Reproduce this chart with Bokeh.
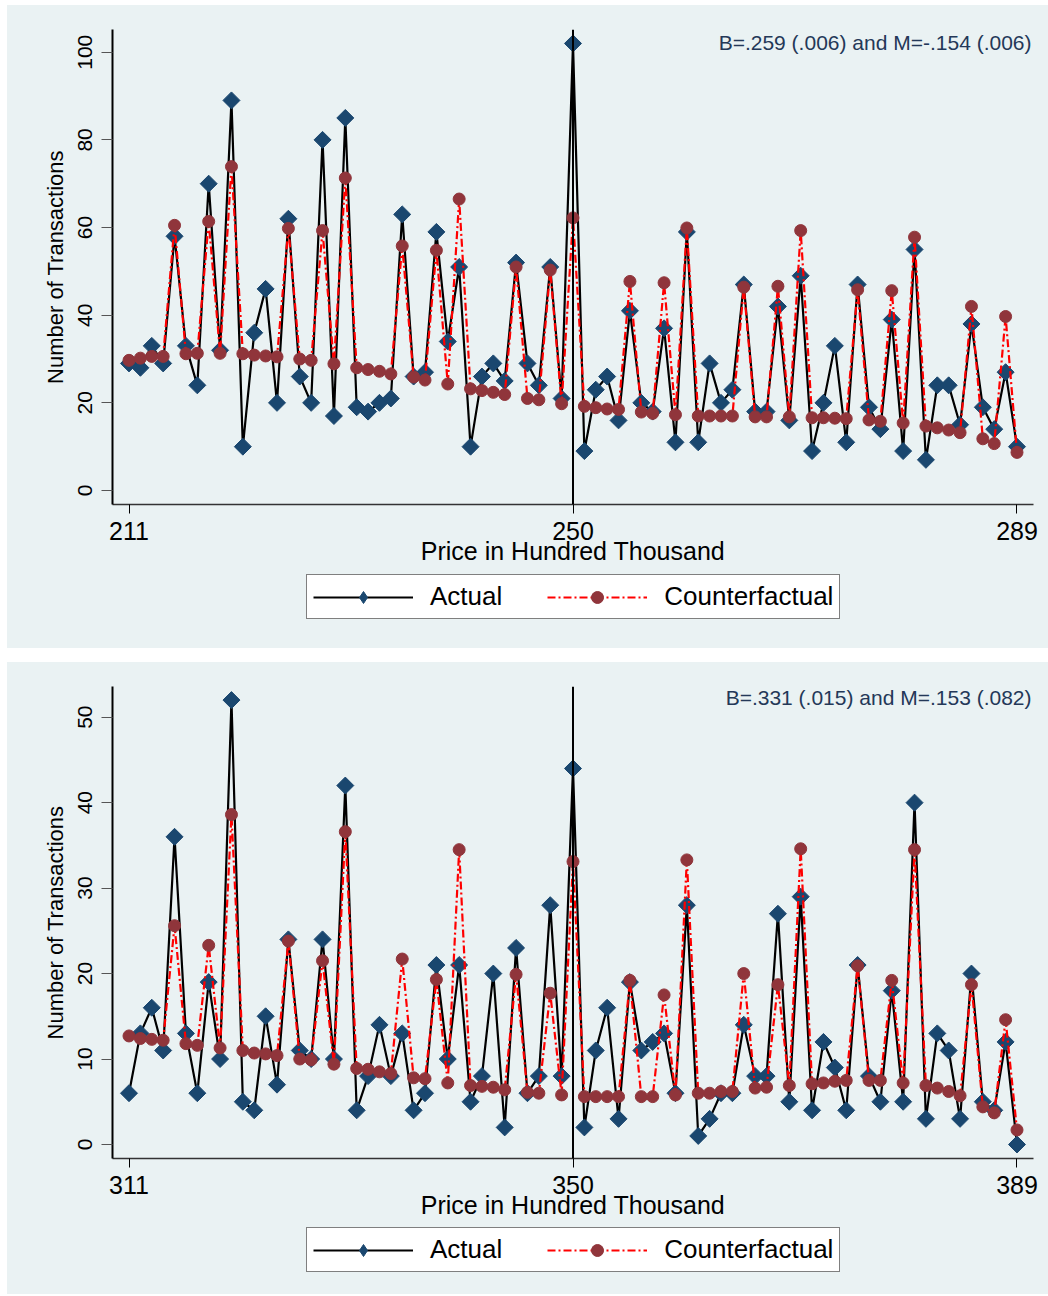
import math
from bokeh.plotting import figure
from bokeh.models import FixedTicker, Span, Label, Legend, LegendItem, Range1d
from bokeh.layouts import column
from bokeh.embed import file_html
from bokeh.resources import INLINE

# ---------------- data ----------------
price_top = list(range(211, 290))
actual_top = [29, 28, 33, 29, 58, 33, 24, 70, 32, 89,
              10, 36, 46, 20, 62, 26, 20, 80, 17, 85,
              19, 18, 20, 21, 63, 26, 27, 59, 34, 51,
              10, 26, 29, 25, 52, 29, 24, 51, 21, 102,
              9, 23, 26, 16, 41, 20, 18, 37, 11, 59,
              11, 29, 20, 23, 47, 18, 18, 42, 16, 49,
              9, 20, 33, 11, 47, 19, 14, 39, 9, 55,
              7, 24, 24, 15, 38, 19, 14, 27, 10]
counter_top = [29.7, 30.2, 30.6, 30.6, 60.5, 31.2, 31.3, 61.4, 31.3, 73.9,
               31.2, 30.9, 30.7, 30.5, 59.8, 30.0, 29.7, 59.3, 28.9, 71.3,
               28.0, 27.6, 27.2, 26.6, 55.8, 25.9, 25.2, 54.8, 24.3, 66.5,
               23.2, 22.8, 22.4, 21.9, 51.0, 21.0, 20.7, 50.3, 19.8, 62.2,
               19.2, 18.9, 18.6, 18.5, 47.7, 17.9, 17.6, 47.4, 17.3, 59.9,
               17.0, 17.0, 17.0, 17.0, 46.4, 16.8, 16.8, 46.6, 16.8, 59.3,
               16.6, 16.6, 16.5, 16.4, 45.8, 16.1, 15.8, 45.6, 15.4, 57.8,
               14.7, 14.3, 13.8, 13.2, 42.0, 11.8, 10.7, 39.7, 8.7]

price_bot = list(range(311, 390))
actual_bot = [6, 13, 16, 11, 36, 13, 6, 19, 10, 52,
              5, 4, 15, 7, 24, 11, 10, 24, 10, 42,
              4, 8, 14, 8, 13, 4, 6, 21, 10, 21,
              5, 8, 20, 2, 23, 6, 8, 28, 8, 44,
              2, 11, 16, 3, 19, 11, 12, 13, 6, 28,
              1, 3, 6, 6, 14, 8, 8, 27, 5, 29,
              4, 12, 9, 4, 21, 8, 5, 18, 5, 40,
              3, 13, 11, 3, 20, 5, 4, 12, 0]
counter_bot = [12.7, 12.4, 12.3, 12.2, 25.6, 11.8, 11.6, 23.3, 11.3, 38.6,
               11.0, 10.7, 10.6, 10.4, 23.8, 10.0, 9.9, 21.5, 9.4, 36.6,
               8.9, 8.8, 8.5, 8.3, 21.7, 7.8, 7.7, 19.3, 7.2, 34.5,
               6.9, 6.8, 6.7, 6.4, 19.9, 6.1, 6.0, 17.7, 5.8, 33.1,
               5.6, 5.6, 5.6, 5.6, 19.2, 5.6, 5.6, 17.5, 5.8, 33.3,
               6.0, 6.0, 6.2, 6.2, 20.0, 6.6, 6.7, 18.7, 6.9, 34.6,
               7.1, 7.2, 7.4, 7.5, 20.9, 7.5, 7.5, 19.2, 7.2, 34.5,
               6.9, 6.6, 6.2, 5.7, 18.7, 4.4, 3.7, 14.6, 1.7]

xticks_top = [211, 250, 289]
xticks_bot = [311, 350, 389]
yticks_top = [0, 20, 40, 60, 80, 100]
yticks_bot = [0, 10, 20, 30, 40, 50]
cutoff_top = 250
cutoff_bot = 350
note_top = "B=.259 (.006) and M=-.154 (.006)"
note_bot = "B=.331 (.015) and M=.153 (.082)"
x_title = "Price in Hundred Thousand"
y_title = "Number of Transactions"
series_names = ["Actual", "Counterfactual"]

BG = "#EAF2F3"
FONT = "Liberation Sans"
NAVY = "#1a476f"
MAROON = "#90353b"
RED = "#ff0000"
W = 1041


def make_plot(xs, actual, cf, xticks, yticks, xr, yr, cutoff, note, note_y,
              height, top, bottom):
    p = figure(width=W, height=height, output_backend="svg",
               toolbar_location=None,
               x_range=Range1d(*xr), y_range=Range1d(*yr),
               min_border_left=105, min_border_right=15,
               min_border_top=top, min_border_bottom=bottom)
    p.background_fill_color = BG
    p.border_fill_color = BG
    p.outline_line_color = None
    p.xgrid.visible = False
    p.ygrid.visible = False

    xa = p.xaxis[0]
    xa.ticker = FixedTicker(ticks=xticks)
    xa.minor_tick_line_color = None
    xa.major_tick_in = 0
    xa.major_tick_out = 9
    xa.major_tick_line_color = "black"
    xa.axis_line_color = "#333333"
    xa.axis_line_width = 1.5
    xa.major_label_text_font = FONT
    xa.major_label_text_font_size = "25px"
    xa.major_label_text_color = "black"
    xa.major_label_standoff = 8
    xa.axis_label = x_title
    xa.axis_label_text_font = FONT
    xa.axis_label_text_font_size = "25px"
    xa.axis_label_text_font_style = "normal"
    xa.axis_label_text_color = "black"
    xa.axis_label_standoff = -6

    ya = p.yaxis[0]
    ya.ticker = FixedTicker(ticks=yticks)
    ya.minor_tick_line_color = None
    ya.major_tick_in = 0
    ya.major_tick_out = 11
    ya.major_tick_line_color = "#555555"
    ya.axis_line_color = "black"
    ya.axis_line_width = 2
    ya.major_label_orientation = "vertical"
    ya.major_label_text_font = FONT
    ya.major_label_text_font_size = "21px"
    ya.major_label_text_color = "black"
    ya.major_label_standoff = 9
    ya.axis_label = y_title
    ya.axis_label_text_font = FONT
    ya.axis_label_text_font_size = "22px"
    ya.axis_label_text_font_style = "normal"
    ya.axis_label_text_color = "black"
    ya.axis_label_standoff = 8

    p.add_layout(Span(location=cutoff, dimension="height",
                      line_color="black", line_width=2))

    p.line(xs, actual, line_color="black", line_width=2.2)
    p.scatter(xs, actual, marker="square", angle=math.pi / 4, size=12,
              fill_color=NAVY, line_color=NAVY)
    p.line(xs, cf, line_color=RED, line_width=2.2, line_dash="8 3 2 3")
    p.scatter(xs, cf, marker="circle", size=12,
              fill_color=MAROON, line_color=MAROON)

    p.add_layout(Label(x=xr[1], y=note_y, text=note, text_align="right",
                       text_baseline="middle", x_offset=-2,
                       text_font=FONT, text_font_size="21px",
                       text_color="#243858"))
    return p


def make_legend(xs, actual, cf, height, loc):
    # strip holding only the key; series lie outside its (0, 1) view window
    lf = figure(width=W, height=height, output_backend="svg",
                toolbar_location=None, x_axis_location=None,
                y_axis_location=None, min_border=0,
                x_range=Range1d(0, 1), y_range=Range1d(0, 1))
    lf.background_fill_color = BG
    lf.border_fill_color = BG
    lf.outline_line_color = None
    lf.xgrid.visible = False
    lf.ygrid.visible = False
    k1 = lf.line(xs, actual, line_color="black", line_width=2.2)
    k2 = lf.scatter(xs, actual, marker="diamond", size=18,
                    fill_color=NAVY, line_color=NAVY)
    k3 = lf.line(xs, cf, line_color=RED, line_width=2.2,
                 line_dash="8 3 2 3")
    k4 = lf.scatter(xs, cf, marker="circle", size=12,
                    fill_color=MAROON, line_color=MAROON)
    legend = Legend(items=[LegendItem(label=series_names[0], renderers=[k1, k2]),
                           LegendItem(label=series_names[1], renderers=[k3, k4])],
                    orientation="horizontal", location=loc,
                    glyph_width=100, glyph_height=30, label_standoff=17,
                    spacing=45, padding=6, margin=0,
                    border_line_color="black", border_line_width=1,
                    background_fill_color="white", background_fill_alpha=1.0,
                    label_text_font=FONT, label_text_font_size="26px",
                    label_text_color="black")
    lf.add_layout(legend)
    return lf


p1 = make_plot(price_top, actual_top, counter_top, xticks_top, yticks_top,
               (209.55, 290.45), (-3.19, 105.18), cutoff_top, note_top, 102.2,
               567, 24, 68)
lg1 = make_legend(price_top, actual_top, counter_top, 76, (194, 29))
p2 = make_plot(price_bot, actual_bot, counter_bot, xticks_bot, yticks_bot,
               (309.55, 390.45), (-1.64, 53.59), cutoff_bot, note_bot, 52.3,
               564, 24, 68)
lg2 = make_legend(price_bot, actual_bot, counter_bot, 68, (194, 22))

panel1 = column(p1, lg1, spacing=0, styles={"background-color": BG})
panel2 = column(p2, lg2, spacing=0, styles={"background-color": BG})
layout = column(panel1, panel2, spacing=14, margin=(5, 0, 0, 7))
open("out.html", "w").write(file_html(layout, INLINE))
